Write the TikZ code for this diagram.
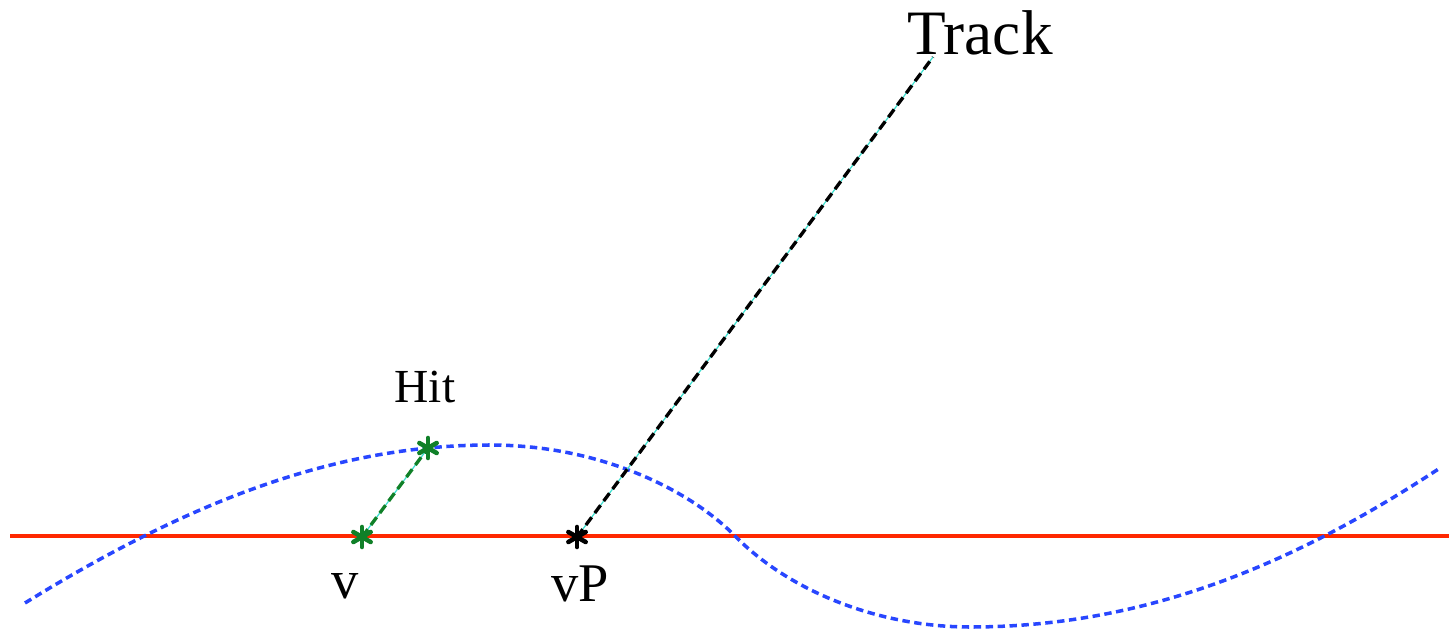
\documentclass[tikz,border=0pt]{standalone}
\usepackage{fontspec}
\setmainfont{Liberation Serif}
\definecolor{redl}{RGB}{255,40,0}
\definecolor{bluel}{RGB}{40,70,255}
\definecolor{greenl}{RGB}{16,128,40}
\definecolor{cyanl}{RGB}{64,224,208}
\begin{document}
\begin{tikzpicture}[x=0.02cm,y=-0.02cm,
  axisline/.style={draw=redl,line width=1.9pt},
  curveline/.style={draw=bluel,line width=2pt,dash pattern=on 4.2pt off 2.6pt},
  guide/.style={draw=cyanl,line width=0.7pt},
  trackdash/.style={draw=black,line width=1.9pt,dash pattern=on 5.5pt off 3pt},
  hitdash/.style={draw=greenl,line width=1.9pt,dash pattern=on 5.5pt off 3pt},
  lbl/.style={inner sep=0pt,anchor=base},
  pics/mstar/.style={code={
    \foreach \a in {90,30,150}{\draw[#1,line width=2.6pt,line cap=round] (\a:10) -- (\a+180:10);}
  }}
]
\useasboundingbox (0,0) rectangle (1449,631);
\coordinate (L) at (10,536);
\coordinate (R) at (1449,536);
\draw[axisline] (L) -- (R);
\draw[curveline] (25,603) .. controls (195,498) and (340,445) .. (490,445)
  .. controls (600,445) and (690,490) .. (735,536)
  .. controls (790,592) and (880,627) .. (970,627)
  .. controls (1150,627) and (1300,560) .. (1440,468);
\coordinate (v) at (362,537);
\coordinate (hit) at (428,448);
\coordinate (vP) at (577,537);
\coordinate (trk) at (933,57);
\draw[guide] (v) -- (hit);
\draw[hitdash] (v) -- (hit);
\draw[guide] (vP) -- (trk);
\draw[trackdash] (vP) -- (trk);
\pic at (v) {mstar=greenl};
\pic at (hit) {mstar=greenl};
\pic at (vP) {mstar=black};
\node[lbl,font=\fontsize{36}{40}\selectfont] (tracklbl) at (980,55) {Track};
\node[lbl,font=\fontsize{27}{30}\selectfont] (hitlbl) at (425,402) {Hit};
\node[lbl,font=\fontsize{31}{34}\selectfont] (vlbl) at (345,598) {v};
\node[lbl,font=\fontsize{31}{34}\selectfont] (vPlbl) at (580,601) {vP};
\end{tikzpicture}
\end{document}
